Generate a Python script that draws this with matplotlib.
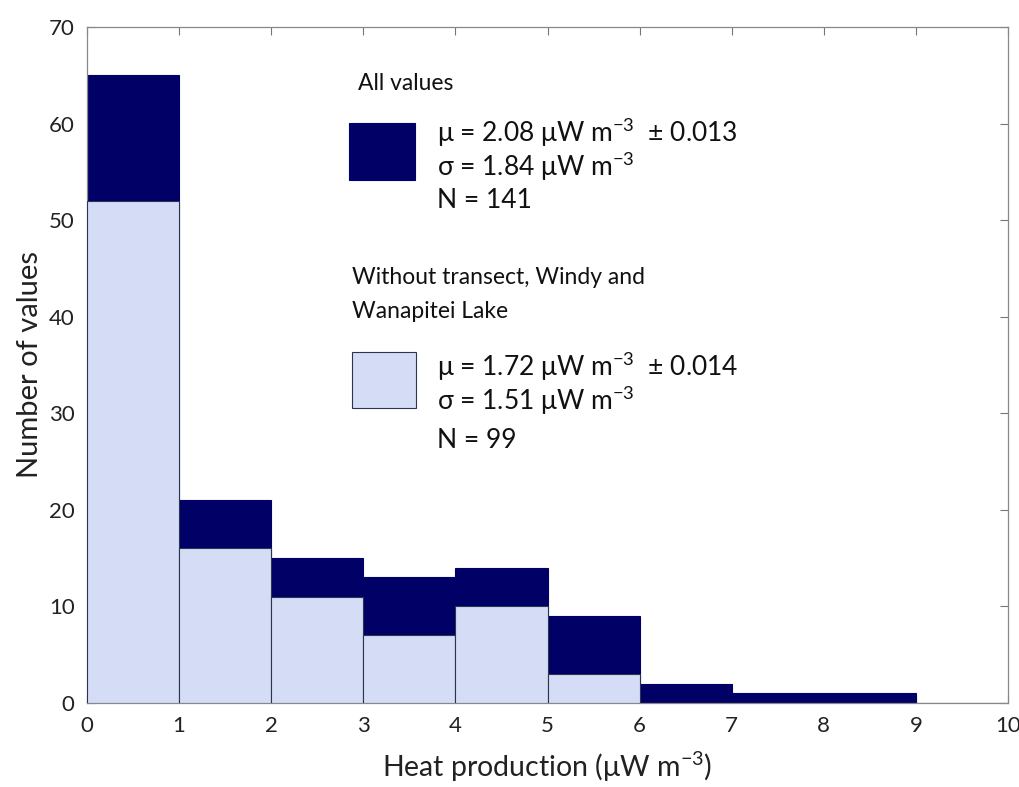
import matplotlib
matplotlib.use("Agg")
import matplotlib.pyplot as plt
from matplotlib.patches import Rectangle

bin_left = [0, 1, 2, 3, 4, 5, 6, 7, 8, 9]
all_counts = [65, 21, 15, 13, 14, 9, 2, 1, 1, 0]
sub_counts = [52, 16, 11, 7, 10, 3, 0, 0, 0, 0]
x_ticks = [0, 1, 2, 3, 4, 5, 6, 7, 8, 9, 10]
y_ticks = [0, 10, 20, 30, 40, 50, 60, 70]

FONT = "Lato"
plt.rcParams['font.family'] = [FONT, 'DejaVu Sans']
plt.rcParams['mathtext.fontset'] = 'custom'
plt.rcParams['mathtext.rm'] = FONT
plt.rcParams['mathtext.it'] = FONT
plt.rcParams['mathtext.default'] = 'regular'

DARK = "#000066"
LIGHT = "#d5dcf5"
EDGE = "#2a3550"

fig = plt.figure(figsize=(10.2, 7.87), dpi=100)
ax = fig.add_axes([87/1020, 1 - 703/787, (1008-87)/1020, (703-27)/787])

ax.bar(bin_left, all_counts, width=1, align='edge', color=DARK,
       edgecolor=DARK, linewidth=0.8, zorder=2)
ax.bar(bin_left[:6], sub_counts[:6], width=1, align='edge', color=LIGHT,
       edgecolor=EDGE, linewidth=0.8, zorder=3)

ax.set_xlim(0, 10)
ax.set_ylim(0, 70)
ax.set_xticks(x_ticks)
ax.set_yticks(y_ticks)
ax.tick_params(direction='in', top=True, right=True, length=6, width=0.8,
               color='#777777', labelsize=16, labelcolor='#222222', pad=9)
for s in ax.spines.values():
    s.set_color('#888888')
    s.set_linewidth(0.9)

ax.set_xlabel("Heat production (μW m$^{-3}$)", fontsize=20.5, color='#222222', labelpad=10)
ax.set_ylabel("Number of values", fontsize=21, color='#222222', labelpad=4)

def px(x, y):
    return ((x - 87) / (1008 - 87), (703 - y) / (703 - 27))

tk = dict(transform=ax.transAxes, fontsize=16.5, color='#111111', va='center', ha='left')
big = dict(transform=ax.transAxes, fontsize=19, color='#111111', va='center', ha='left')

ax.text(*px(358, 83), "All values", **tk)
x0, y0 = px(349, 180)
x1, y1 = px(415, 123)
ax.add_patch(Rectangle((x0, y0), x1 - x0, y1 - y0, transform=ax.transAxes,
                       facecolor=DARK, edgecolor=DARK, linewidth=0.8, zorder=5))
ax.text(*px(437, 133), "μ = 2.08 μW m$^{-3}$  ± 0.013", **big)
ax.text(*px(437, 167), "σ = 1.84 μW m$^{-3}$", **big)
ax.text(*px(437, 200), "N = 141", **big)

ax.text(*px(352, 277), "Without transect, Windy and", **tk)
ax.text(*px(352, 312), "Wanapitei Lake", **tk)
x0, y0 = px(352, 408)
x1, y1 = px(416, 352)
ax.add_patch(Rectangle((x0, y0), x1 - x0, y1 - y0, transform=ax.transAxes,
                       facecolor=LIGHT, edgecolor=EDGE, linewidth=0.8, zorder=5))
ax.text(*px(437, 367), "μ = 1.72 μW m$^{-3}$  ± 0.014", **big)
ax.text(*px(437, 401), "σ = 1.51 μW m$^{-3}$", **big)
ax.text(*px(437, 440), "N = 99", **big)

fig.savefig("out.png", dpi=100)
